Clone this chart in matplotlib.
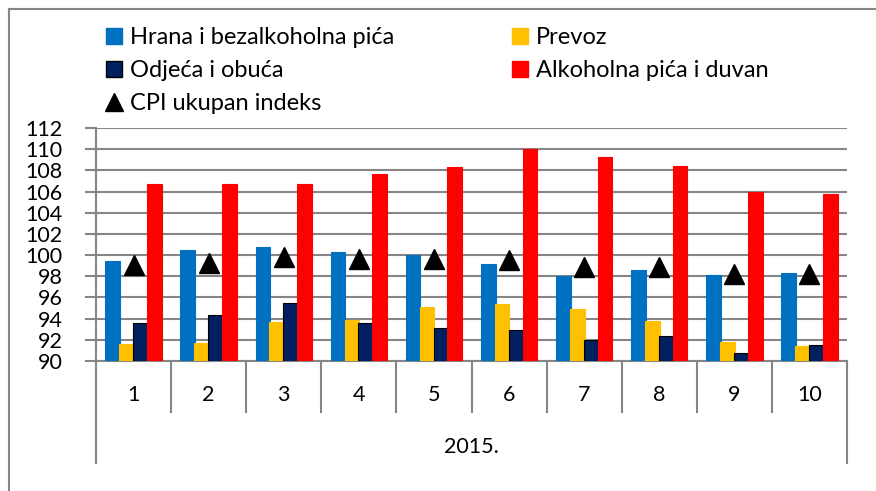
import matplotlib
matplotlib.use("Agg")
import matplotlib.pyplot as plt
import matplotlib.transforms as mtransforms
from matplotlib.patches import Rectangle
from matplotlib.lines import Line2D
import numpy as np

plt.rcParams['font.family'] = ['Lato', 'DejaVu Sans']

# data
months = ["1", "2", "3", "4", "5", "6", "7", "8", "9", "10"]
year_label = "2015."
hrana = [99.4, 100.5, 100.8, 100.3, 100.0, 99.2, 98.0, 98.6, 98.1, 98.3]
prevoz = [91.6, 91.7, 93.7, 93.9, 95.1, 95.4, 94.9, 93.8, 91.8, 91.4]
odjeca = [93.6, 94.3, 95.5, 93.6, 93.1, 92.9, 92.0, 92.4, 90.8, 91.5]
alkohol = [106.7, 106.7, 106.7, 107.7, 108.3, 110.0, 109.3, 108.4, 106.0, 105.8]
cpi = [99.1, 99.3, 99.8, 99.6, 99.6, 99.5, 98.9, 98.9, 98.2, 98.2]

series_names = ["Hrana i bezalkoholna pića", "Prevoz", "Odjeća i obuća", "Alkoholna pića i duvan"]
series_colors = ["#0070C0", "#FFC000", "#002060", "#FF0000"]
cpi_name = "CPI ukupan indeks"

W, H = 876, 491
fig = plt.figure(figsize=(W / 100, H / 100), dpi=100)
fig.patch.set_facecolor("white")
grid_c = "#868686"
fs = 15.5

# outer chart border (only top and left edges are visible in the crop)
fig.add_artist(Line2D([8.5 / W, 1.0], [1 - 8.5 / H, 1 - 8.5 / H], transform=fig.transFigure,
                      color=grid_c, linewidth=1.5))
fig.add_artist(Line2D([8.5 / W, 8.5 / W], [0, 1 - 8.5 / H], transform=fig.transFigure,
                      color=grid_c, linewidth=1.5))

left, right, top, bottom = 96, 847, 128, 361
ax = fig.add_axes([left / W, 1 - bottom / H, (right - left) / W, (bottom - top) / H])

x = np.arange(len(months))
step = 0.185
width = 0.195
all_series = [hrana, prevoz, odjeca, alkohol]
for i, (vals, col) in enumerate(zip(all_series, series_colors)):
    ec = "black" if col == "#002060" else col
    ax.bar(x + (i - 1.5) * step, np.array(vals) - 90, width=width, bottom=90,
           color=col, edgecolor=ec, linewidth=0.8, zorder=3, label=series_names[i])

ax.plot(x, cpi, linestyle="none", marker="^", markersize=15, color="black", zorder=4,
        label=cpi_name)

ax.set_xlim(-0.5, len(months) - 0.5)
ax.set_ylim(90, 112)
ax.set_yticks(np.arange(90, 113, 2))
ax.yaxis.grid(True, color=grid_c, linewidth=1.5, zorder=0)
ax.set_axisbelow(True)
for s in ["top", "right"]:
    ax.spines[s].set_visible(False)
for s in ["left", "bottom"]:
    ax.spines[s].set_color(grid_c)
    ax.spines[s].set_linewidth(1.5)
ax.tick_params(axis="y", length=8, width=1.5, color=grid_c, labelsize=fs, pad=16)
ax.set_xticks([])

# category axis: month labels, separators, and year label
trans = mtransforms.blended_transform_factory(ax.transData, ax.transAxes)
ph = bottom - top
sep_short = -(412 - bottom) / ph
sep_long = -(463 - bottom) / ph
for k in range(len(months) + 1):
    xb = k - 0.5
    y_end = sep_long if k in (0, len(months)) else sep_short
    ax.plot([xb, xb], [0, y_end], transform=trans, color=grid_c, linewidth=1.5, clip_on=False)
for k, m in enumerate(months):
    ax.text(k, -(395 - bottom) / ph, m, transform=trans, ha="center", va="center", fontsize=fs)
ax.text((len(months) - 1) / 2, -(447 - bottom) / ph, year_label, transform=trans,
        ha="center", va="center", fontsize=fs)

labels = [series_names[0], series_names[2], cpi_name, series_names[1], series_names[3]]
sq = [Rectangle((0, 0), 1, 1, facecolor=series_colors[0], edgecolor=series_colors[0]),
      Rectangle((0, 0), 1, 1, facecolor=series_colors[2], edgecolor="black"),
      Line2D([], [], linestyle="none", marker="^", markersize=13, color="black"),
      Rectangle((0, 0), 1, 1, facecolor=series_colors[1], edgecolor=series_colors[1]),
      Rectangle((0, 0), 1, 1, facecolor=series_colors[3], edgecolor=series_colors[3])]
fig.legend(sq, labels, ncol=2, loc="upper left", bbox_to_anchor=(85 / W, 1 - 6 / H),
           frameon=False, fontsize=17, handlelength=0.65, handleheight=0.65,
           handletextpad=0.35, labelspacing=0.5, columnspacing=5.0)

fig.savefig("out.png", dpi=100)
